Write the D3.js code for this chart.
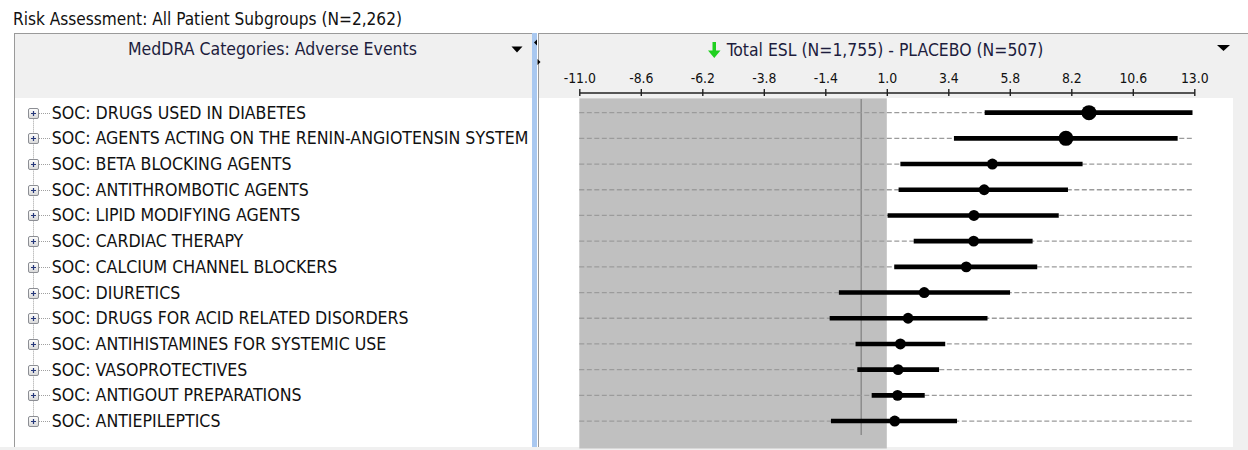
<!DOCTYPE html>
<html>
<head>
<meta charset="utf-8">
<script src="https://cdn.jsdelivr.net/npm/d3@7/dist/d3.min.js"></script>
<style>
  html, body { margin: 0; padding: 0; background: #ffffff; }
  svg { display: block; }
  text { font-family: "DejaVu Sans Condensed", "DejaVu Sans", Tahoma, sans-serif; font-stretch: condensed; }
</style>
</head>
<body>
<svg id="chart" width="1248" height="450"></svg>
<script>
// Adverse-event categories, one row each
const categories = [
  "SOC: DRUGS USED IN DIABETES",
  "SOC: AGENTS ACTING ON THE RENIN-ANGIOTENSIN SYSTEM",
  "SOC: BETA BLOCKING AGENTS",
  "SOC: ANTITHROMBOTIC AGENTS",
  "SOC: LIPID MODIFYING AGENTS",
  "SOC: CARDIAC THERAPY",
  "SOC: CALCIUM CHANNEL BLOCKERS",
  "SOC: DIURETICS",
  "SOC: DRUGS FOR ACID RELATED DISORDERS",
  "SOC: ANTIHISTAMINES FOR SYSTEMIC USE",
  "SOC: VASOPROTECTIVES",
  "SOC: ANTIGOUT PREPARATIONS",
  "SOC: ANTIEPILEPTICS"
];

// Risk difference (Total ESL - PLACEBO): point estimate and interval bounds
const estimate = [8.89, 7.99, 5.12, 4.80, 4.40, 4.39, 4.10, 2.46, 1.83, 1.53, 1.44, 1.42, 1.31];
const lower    = [4.82, 3.62, 1.53, 1.46, 1.03, 2.05, 1.29, -0.87, -1.23, -0.22, -0.15, 0.41, -1.18];
const upper    = [12.93, 12.35, 8.64, 8.07, 7.71, 6.69, 6.87, 5.81, 4.93, 3.28, 3.04, 2.48, 3.74];
// Relative weight of each estimate (controls marker area)
const weight   = [1.9, 1.9, 1, 1, 1, 1, 1, 1, 1, 1, 1, 1, 1];

// Axis
const tickValues = [-11.0, -8.6, -6.2, -3.8, -1.4, 1.0, 3.4, 5.8, 8.2, 10.6, 13.0];
const tickLabels = ["-11.0", "-8.6", "-6.2", "-3.8", "-1.4", "1.0", "3.4", "5.8", "8.2", "10.6", "13.0"];
const shadeRange = [-11.0, 1.0];
const referenceValue = 0;

const titleText = "Risk Assessment: All Patient Subgroups (N=2,262)";
const leftHeader = "MedDRA Categories: Adverse Events";
const rightHeader = "Total ESL (N=1,755) - PLACEBO (N=507)";

const svg = d3.select("#chart");

// scale a text's font size so it spans the given width
function fitWidth(sel, width) {
  const w = sel.node().getComputedTextLength();
  const fs = parseFloat(sel.attr("font-size"));
  sel.attr("font-size", (fs * width / w).toFixed(2));
  return sel;
}

// Background panes
svg.append("rect").attr("x", 0).attr("y", 0).attr("width", 1248).attr("height", 450).attr("fill", "#ffffff");
svg.append("rect").attr("x", 0).attr("y", 447).attr("width", 1248).attr("height", 3).attr("fill", "#f0f0f0");

// Left (tree) panel
svg.append("rect").attr("x", 14).attr("y", 33).attr("width", 518).attr("height", 65).attr("fill", "#f0f0f0");
svg.append("rect").attr("x", 14.5).attr("y", 98).attr("width", 517.5).attr("height", 349).attr("fill", "#ffffff");
svg.append("line").attr("x1", 14).attr("x2", 532).attr("y1", 33.5).attr("y2", 33.5).attr("stroke", "#9a9a9a");
svg.append("line").attr("x1", 14.5).attr("x2", 14.5).attr("y1", 33).attr("y2", 447).attr("stroke", "#9a9a9a");

// Right (plot) panel
svg.append("rect").attr("x", 538).attr("y", 33).attr("width", 710).attr("height", 414).attr("fill", "#f0f0f0");
svg.append("rect").attr("x", 539).attr("y", 98).attr("width", 694).attr("height", 349).attr("fill", "#ffffff");
svg.append("line").attr("x1", 538).attr("x2", 1248).attr("y1", 33.5).attr("y2", 33.5).attr("stroke", "#9a9a9a");
svg.append("line").attr("x1", 538.5).attr("x2", 538.5).attr("y1", 33).attr("y2", 447).attr("stroke", "#9a9a9a");

// Splitter between panels
svg.append("rect").attr("x", 532).attr("y", 33).attr("width", 5).attr("height", 414).attr("fill", "#a9c8f0");
svg.append("path").attr("d", "M534,42.5 L537,39.5 L537,45.5 Z").attr("fill", "#000");
svg.append("path").attr("d", "M537.5,59 L540.5,62 L537.5,65 Z").attr("fill", "#000");

// Title
const title = svg.append("text").attr("x", 13).attr("y", 25).attr("font-size", 15)
  .attr("fill", "#111").text(titleText);
fitWidth(title, 389);

// Left header
const lh = svg.append("text").attr("x", 272.5).attr("y", 55).attr("text-anchor", "middle")
  .attr("font-size", 15).attr("fill", "#1d1d3d").text(leftHeader);
fitWidth(lh, 289);
svg.append("path").attr("d", "M511.5,46.5 L522.5,46.5 L517,52.5 Z").attr("fill", "#000");

// Right header with sort arrow
svg.append("path")
  .attr("d", "M712.5,42 L716,42 L716,50.5 L720.5,50.5 L714.25,58 L708,50.5 L712.5,50.5 Z")
  .attr("fill", "#1fd01f");
const rh = svg.append("text").attr("x", 726.7).attr("y", 56).attr("font-size", 15)
  .attr("fill", "#1d1d3d").text(rightHeader);
fitWidth(rh, 316.7);
svg.append("path").attr("d", "M1217,45 L1230,45 L1223.5,51 Z").attr("fill", "#000");

// Scales
const x = d3.scaleLinear().domain([tickValues[0], tickValues[tickValues.length - 1]]).range([579.3, 1194.3]);
const y = d3.scaleBand().domain(categories).range([99.8, 433.9]);
const rowY = d => y(d) + y.bandwidth() / 2;
const r = d3.scaleSqrt().domain([0, d3.max(weight)]).range([0, 7.5]);

// Axis above the plot
const axisG = svg.append("g").attr("transform", "translate(0,92.5)")
  .call(d3.axisTop(x).tickValues(tickValues).tickSizeInner(3.5).tickSizeOuter(0).tickPadding(6)
    .tickFormat((d, i) => tickLabels[i]));
axisG.select(".domain").attr("stroke", "#222").attr("stroke-width", 1.6);
axisG.selectAll(".tick line").attr("y1", 3.5).attr("stroke", "#222").attr("stroke-width", 1.4);
axisG.selectAll(".tick text").attr("font-size", 13).attr("fill", "#111")
  .attr("font-family", "\"DejaVu Sans Condensed\", \"DejaVu Sans\", sans-serif");
fitWidth(axisG.select(".tick text"), 32.3);
const tickFs = axisG.select(".tick text").attr("font-size");
axisG.selectAll(".tick text").attr("font-size", tickFs);

// Shaded region and reference line
svg.append("rect")
  .attr("x", x(shadeRange[0])).attr("y", 98.3)
  .attr("width", x(shadeRange[1]) - x(shadeRange[0])).attr("height", 448.5 - 98.3)
  .attr("fill", "#c0c0c0");
svg.append("line")
  .attr("x1", x(referenceValue)).attr("x2", x(referenceValue))
  .attr("y1", 99).attr("y2", 435)
  .attr("stroke", "#7e7e7e").attr("stroke-width", 1.2);

// Rows: dashed guides, intervals, estimates
const rows = svg.append("g").selectAll("g").data(categories).join("g");
rows.append("line")
  .attr("x1", x(tickValues[0])).attr("x2", x(tickValues[tickValues.length - 1]))
  .attr("y1", d => rowY(d)).attr("y2", d => rowY(d))
  .attr("stroke", "#9b9b9b").attr("stroke-width", 1.3).attr("stroke-dasharray", "5,2.5");
rows.append("line")
  .attr("x1", (d, i) => x(lower[i])).attr("x2", (d, i) => x(upper[i]))
  .attr("y1", d => rowY(d)).attr("y2", d => rowY(d))
  .attr("stroke", "#000").attr("stroke-width", 4.6);
rows.append("circle")
  .attr("cx", (d, i) => x(estimate[i])).attr("cy", d => rowY(d))
  .attr("r", (d, i) => r(weight[i])).attr("fill", "#000");

// Tree list on the left
const tree = svg.append("g");
const boxGrad = svg.append("defs").append("linearGradient").attr("id", "boxGrad")
  .attr("x1", 0).attr("y1", 0).attr("x2", 0).attr("y2", 1);
boxGrad.append("stop").attr("offset", 0).attr("stop-color", "#ffffff");
boxGrad.append("stop").attr("offset", 1).attr("stop-color", "#d8d8d8");
tree.append("line")
  .attr("x1", 33.5).attr("x2", 33.5)
  .attr("y1", rowY(categories[0])).attr("y2", rowY(categories[categories.length - 1]))
  .attr("stroke", "#a0a0a0").attr("stroke-dasharray", "1,1");
const items = tree.selectAll("g.item").data(categories).join("g").attr("class", "item")
  .attr("transform", d => `translate(0,${Math.round(rowY(d))})`);
items.append("line").attr("x1", 39).attr("x2", 50).attr("y1", 0.5).attr("y2", 0.5)
  .attr("stroke", "#a0a0a0").attr("stroke-dasharray", "1,1");
items.append("rect").attr("x", 28.5).attr("y", -4.5).attr("width", 10).attr("height", 10).attr("rx", 1.5)
  .attr("fill", "url(#boxGrad)").attr("stroke", "#8c8e94");
items.append("path").attr("d", "M31,0.5 H36 M33.5,-2 V3").attr("stroke", "#26387a").attr("stroke-width", 1.2);
const labels = items.append("text").attr("x", 51.7).attr("y", 5.6).attr("font-size", 15)
  .attr("fill", "#111").text(d => d);
// size all labels from the longest one
const longest = labels.filter((d, i) => i === 1);
fitWidth(longest, 477);
labels.attr("font-size", longest.attr("font-size"));
</script>
</body>
</html>
